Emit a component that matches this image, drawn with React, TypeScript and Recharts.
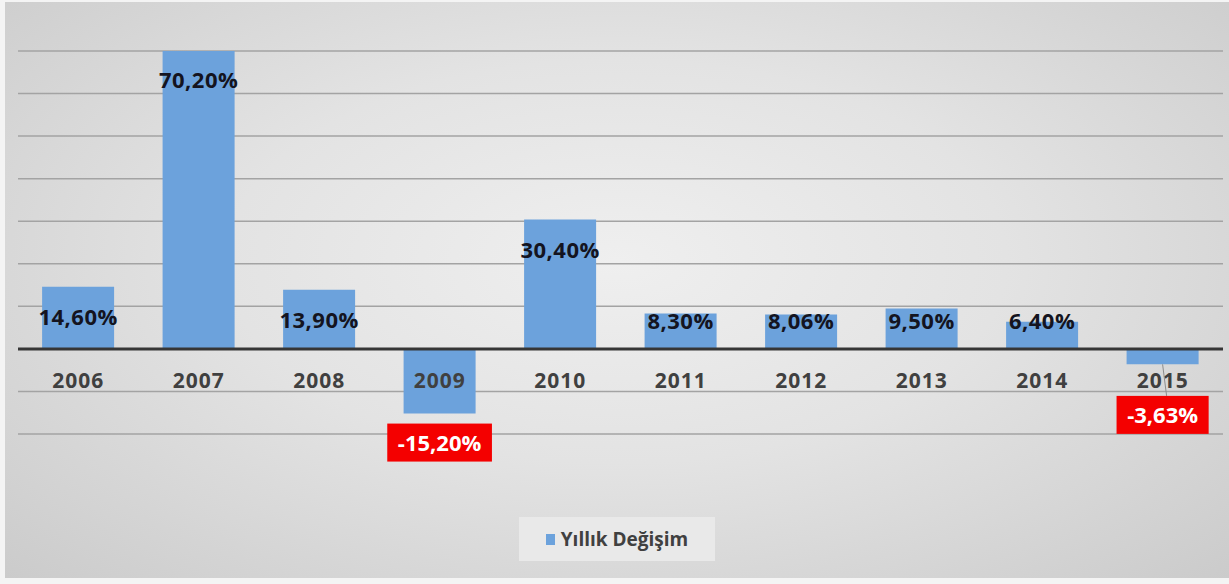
import React from 'react';
import {
  BarChart,
  Bar,
  XAxis,
  YAxis,
  CartesianGrid,
  ReferenceLine,
  LabelList,
  Legend,
} from 'recharts';

const years = ['2006', '2007', '2008', '2009', '2010', '2011', '2012', '2013', '2014', '2015'];
const changes = [14.6, 70.2, 13.9, -15.2, 30.4, 8.3, 8.06, 9.5, 6.4, -3.63];
const yTicks = [-20, -10, 0, 10, 20, 30, 40, 50, 60, 70];
const seriesName = 'Yıllık Değişim';

const data = years.map((year, i) => ({ year, change: changes[i] }));

const FONT = '"Open Sans", "DejaVu Sans", sans-serif';
const BAR_BLUE = '#6ca2dc';

// turkish style: comma as decimal separator
const fmt = (v: number) => v.toFixed(2).replace('.', ',') + '%';

// rough glyph widths for Open Sans Bold, in em
const textWidth = (s: string, size: number) => {
  let w = 0;
  for (const ch of s) {
    if (ch === '%') w += 0.86;
    else if (ch === ',') w += 0.29;
    else if (ch === '-') w += 0.32;
    else w += 0.572;
  }
  return w * size;
};

// ticks sit just under the zero line, not at the bottom of the plot
const YearTick = (props: any) => {
  const { x, y, payload } = props;
  return (
    <text
      x={x}
      y={y}
      dy={-46}
      textAnchor="middle"
      fill="#404040"
      fontFamily={FONT}
      fontWeight={700}
      fontSize={21}
      letterSpacing={1}
    >
      {payload.value}
    </text>
  );
};

const ValueLabel = (props: any) => {
  const { x, y, width, height, value } = props;
  const top = Math.min(y, y + height);
  const bottom = Math.max(y, y + height);
  const cx = x + width / 2;
  const label = fmt(value);

  if (value >= 0) {
    const cy = Math.min(top + 30, bottom - 28);
    return (
      <text
        x={cx}
        y={cy}
        dy={8}
        textAnchor="middle"
        fill="#141420"
        fontFamily={FONT}
        fontWeight={700}
        fontSize={22}
        letterSpacing={0.5}
      >
        {label}
      </text>
    );
  }

  // negative values: white text in a red box below the bar
  const boxW = textWidth(label, 22) + 22;
  const boxH = 38;
  const boxTop = Math.max(bottom + 10, top + 47);
  const moved = boxTop > bottom + 10;
  return (
    <g>
      {moved && (
        <line x1={cx} y1={bottom} x2={cx + 4} y2={boxTop} stroke="#8c8c8c" strokeWidth={1} />
      )}
      <rect x={cx - boxW / 2} y={boxTop} width={boxW} height={boxH} fill="#f40000" />
      <text
        x={cx}
        y={boxTop + boxH / 2}
        dy={8}
        textAnchor="middle"
        fill="#ffffff"
        fontFamily={FONT}
        fontWeight={700}
        fontSize={22}
      >
        {label}
      </text>
    </g>
  );
};

const LegendBox = () => (
  <div
    style={{
      width: 196,
      height: 44,
      background: '#e9e9e9',
      display: 'flex',
      alignItems: 'center',
      justifyContent: 'center',
      fontFamily: FONT,
      fontWeight: 700,
      fontSize: 19,
      color: '#404040',
    }}
  >
    <span style={{ width: 9, height: 11, background: BAR_BLUE, marginRight: 6, display: 'inline-block' }} />
    {seriesName}
  </div>
);

export default function App() {
  return (
    <div style={{ position: 'absolute', left: 0, top: 0, width: 1229, height: 584, background: '#f4f4f4' }}>
      <div
        style={{
          position: 'absolute',
          left: 5,
          top: 2,
          width: 1224,
          height: 576,
          background: 'radial-gradient(ellipse at 50% 45%, #efefef 0%, #e3e3e3 45%, #cbcbcb 100%)',
        }}
      />
      <div style={{ position: 'absolute', left: 0, top: 0 }}>
        <BarChart
          width={1229}
          height={584}
          data={data}
          margin={{ top: 51, right: 6, bottom: 120, left: 18 }}
          barCategoryGap="20%"
        >
          <CartesianGrid vertical={false} stroke="#a3a3a3" strokeWidth={1.5} />
          <XAxis
            dataKey="year"
            height={30}
            axisLine={false}
            tickLine={false}
            tickSize={0}
            tickMargin={0}
            tick={<YearTick />}
            interval={0}
          />
          <YAxis hide domain={[-20, 70]} ticks={yTicks} allowDataOverflow width={0} />
          <Legend
            layout="horizontal"
            verticalAlign="middle"
            align="center"
            wrapperStyle={{ left: 519, top: 517, width: 196 }}
            content={<LegendBox />}
          />
          <Bar dataKey="change" name={seriesName} fill={BAR_BLUE} isAnimationActive={false}>
            <LabelList dataKey="change" content={<ValueLabel />} />
          </Bar>
          <ReferenceLine y={0} stroke="#363636" strokeWidth={3} />
        </BarChart>
      </div>
    </div>
  );
}
